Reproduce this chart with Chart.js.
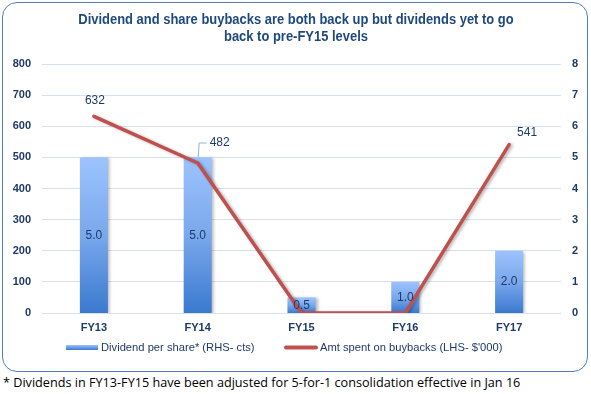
<!DOCTYPE html>
<html>
<head>
<meta charset="utf-8">
<script src="https://cdn.jsdelivr.net/npm/chart.js@4/dist/chart.umd.min.js"></script>
<style>
  html, body { margin: 0; padding: 0; background: #ffffff; }
  body { width: 591px; height: 394px; position: relative; overflow: hidden; }
  #box { position: absolute; left: 2px; top: 2px; width: 586px; height: 370px; box-sizing: border-box;
         border: 1px solid #4F7FC0; border-radius: 15px; overflow: hidden; }
  #box canvas { display: block; }
  #title { position: absolute; left: 0; top: 11px; width: 592px; text-align: center;
           font-family: "Liberation Sans", Arial, sans-serif; font-weight: bold; font-size: 14px; line-height: 17px;
           color: #1F497D; transform: scaleX(0.925); transform-origin: 296px 0; white-space: nowrap; }
  #note { position: absolute; left: 3px; top: 373px; font-family: "Open Sans", sans-serif;
          font-size: 13.5px; color: #000; white-space: nowrap; transform-origin: 0 0; }
</style>
</head>
<body>
<div id="box"><canvas id="c" width="584" height="368"></canvas></div>
<div id="title"></div>
<div id="note">* Dividends in FY13-FY15 have been adjusted for 5-for-1 consolidation effective in Jan 16</div>
<script>
const categories = ["FY13", "FY14", "FY15", "FY16", "FY17"];
const dividendPerShare = [5.0, 5.0, 0.5, 1.0, 2.0];
const buybackAmount = [632, 482, 0, 0, 541];
const leftTicks = [0, 100, 200, 300, 400, 500, 600, 700, 800];
const rightTicks = [0, 1, 2, 3, 4, 5, 6, 7, 8];
const titleLines = ["Dividend and share buybacks are both back up but dividends yet to go", "back to pre-FY15 levels"];
const seriesNames = ["Dividend per share* (RHS- cts)", "Amt spent on buybacks (LHS- $'000)"];

const TEXT = '#1F3A68';
const RED = '#C0504D';

const titleEl = document.getElementById('title');
titleLines.forEach(t => { const d = document.createElement('div'); d.textContent = t; titleEl.appendChild(d); });
const note = document.getElementById('note');
note.style.transform = 'scaleX(' + (517 / note.offsetWidth) + ')';

function barGradient(ctx) {
  const chart = ctx.chart;
  if (ctx.type !== 'data' || !chart.chartArea || !chart.scales.y2) return '#6E9FE6';
  const s = chart.scales.y2;
  const top = s.getPixelForValue(ctx.raw);
  const bot = s.getPixelForValue(0);
  if (!isFinite(top) || !isFinite(bot) || top === bot) return '#6E9FE6';
  const g = chart.ctx.createLinearGradient(0, top, 0, bot);
  g.addColorStop(0, '#9DC3FD');
  g.addColorStop(0.5, '#79A8EC');
  g.addColorStop(1, '#3B79CF');
  return g;
}

const shadowPlugin = {
  id: 'shadow',
  beforeDatasetDraw(chart) {
    const c = chart.ctx;
    c.save();
    c.shadowColor = 'rgba(0,0,0,0.28)';
    c.shadowBlur = 3;
    c.shadowOffsetX = 2;
    c.shadowOffsetY = 1;
  },
  afterDatasetDraw(chart) { chart.ctx.restore(); }
};

const labelPlugin = {
  id: 'labels',
  afterDatasetsDraw(chart) {
    const c = chart.ctx;
    c.save();
    c.fillStyle = TEXT;
    c.font = '12px "Liberation Sans", Arial, sans-serif';
    c.textAlign = 'center';
    c.textBaseline = 'middle';
    const barMeta = chart.getDatasetMeta(0);
    barMeta.data.forEach((el, i) => {
      const p = el.getProps(['x', 'y', 'base'], true);
      c.fillText(dividendPerShare[i].toFixed(1), p.x, (p.y + p.base) / 2);
    });
    const lineMeta = chart.getDatasetMeta(1);
    const offsets = [[1, -16], [22, -20], null, null, [18, -12]];
    lineMeta.data.forEach((el, i) => {
      if (!offsets[i]) return;
      const p = el.getProps(['x', 'y'], true);
      const lx = p.x + offsets[i][0], ly = p.y + offsets[i][1];
      c.fillText(String(buybackAmount[i]), lx, ly);
      if (i === 1) {
        c.strokeStyle = '#8DB3E2';
        c.lineWidth = 1;
        c.beginPath();
        c.moveTo(p.x + 0.5, p.y - 6);
        c.lineTo(p.x + 1.5, ly);
        c.lineTo(p.x + 9, ly);
        c.stroke();
      }
    });
    const ly = 344.5;
    c.font = '11.2px "Liberation Sans", Arial, sans-serif';
    c.textAlign = 'left';
    const g = c.createLinearGradient(0, ly - 2.5, 0, ly + 2.5);
    g.addColorStop(0, '#9DC3FD');
    g.addColorStop(1, '#3B79CF');
    c.fillStyle = g;
    c.fillRect(63, ly - 2.5, 32, 5);
    c.fillStyle = TEXT;
    c.fillText(seriesNames[0], 98, ly);
    c.strokeStyle = RED;
    c.lineWidth = 4;
    c.lineCap = 'round';
    c.beginPath();
    c.moveTo(283, ly);
    c.lineTo(313, ly);
    c.stroke();
    c.fillText(seriesNames[1], 317, ly);
    c.restore();
  }
};

new Chart(document.getElementById('c'), {
  data: {
    labels: categories,
    datasets: [
      {
        type: 'bar',
        label: seriesNames[0],
        data: dividendPerShare,
        yAxisID: 'y2',
        backgroundColor: barGradient,
        borderWidth: 0,
        barPercentage: 0.27,
        categoryPercentage: 1.0,
        order: 2
      },
      {
        type: 'line',
        label: seriesNames[1],
        data: buybackAmount,
        yAxisID: 'y',
        borderColor: RED,
        borderWidth: 3.5,
        pointRadius: 0,
        tension: 0,
        fill: false,
        borderJoinStyle: 'round',
        borderCapStyle: 'round',
        order: 1
      }
    ]
  },
  options: {
    responsive: false,
    animation: false,
    layout: { padding: { top: 61, left: 0, right: 0, bottom: 0 } },
    plugins: {
      legend: { display: false },
      tooltip: { enabled: false },
      title: { display: false }
    },
    scales: {
      x: {
        grid: { display: false, drawTicks: false },
        border: { display: false },
        ticks: { color: TEXT, font: { family: '"Liberation Sans", Arial, sans-serif', size: 11, weight: 'bold' }, padding: 8 },
        afterFit(s) { s.height = 58; }
      },
      y: {
        position: 'left',
        min: 0, max: 800,
        afterBuildTicks(s) { s.ticks = leftTicks.map(v => ({ value: v })); },
        grid: { color: '#D5E0F0', lineWidth: 1, drawTicks: false },
        border: { display: false },
        ticks: { color: TEXT, font: { family: '"Liberation Sans", Arial, sans-serif', size: 11, weight: 'bold' }, padding: 11 },
        afterFit(s) { s.width = 39; }
      },
      y2: {
        position: 'right',
        min: 0, max: 8,
        afterBuildTicks(s) { s.ticks = rightTicks.map(v => ({ value: v })); },
        grid: { display: false, drawTicks: false },
        border: { display: false },
        ticks: { color: TEXT, font: { family: '"Liberation Sans", Arial, sans-serif', size: 11, weight: 'bold' }, padding: 11 },
        afterFit(s) { s.width = 26; }
      }
    }
  },
  plugins: [shadowPlugin, labelPlugin]
});
</script>
</body>
</html>
